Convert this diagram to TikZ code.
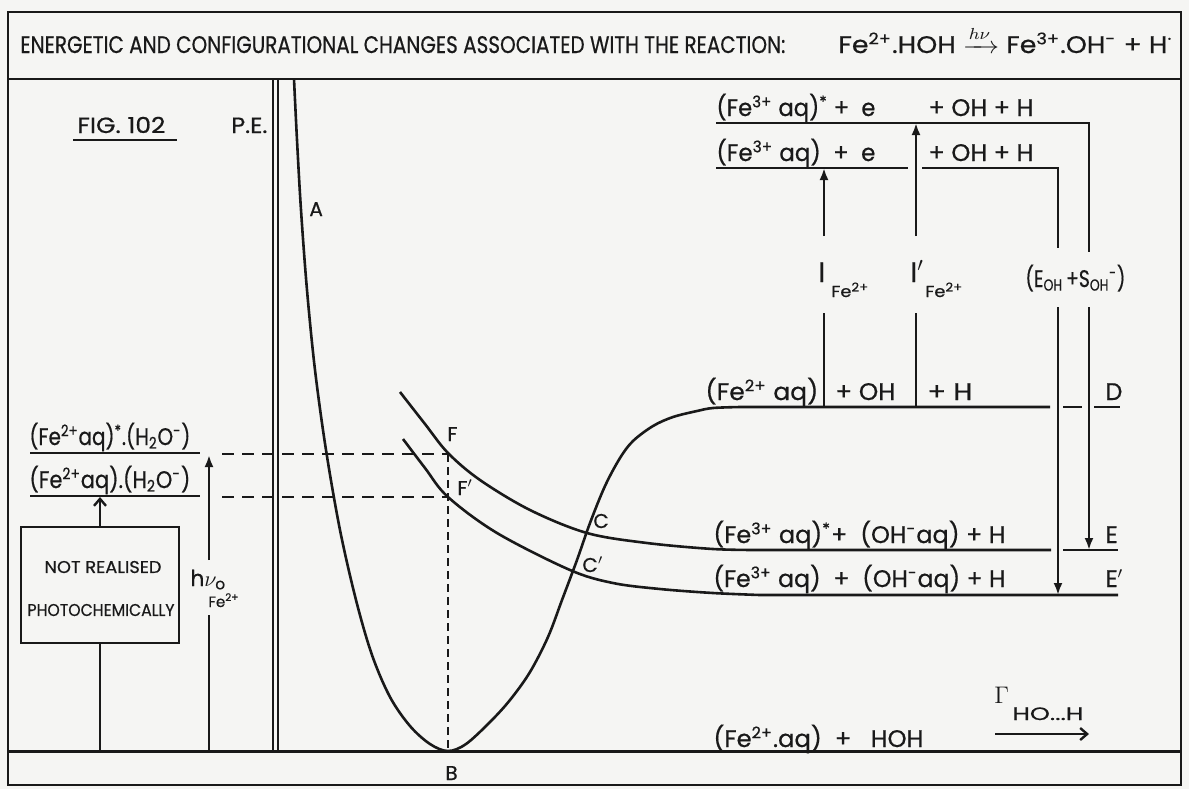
\documentclass[tikz,border=0pt]{standalone}
\usepackage{fontspec}
\usepackage{amsmath}
\usepackage{graphicx}
\setmainfont{Poppins}[FakeBold=0.6]
\usetikzlibrary{arrows.meta}
\definecolor{bgc}{RGB}{245,245,243}
\definecolor{ink}{RGB}{25,25,25}
\newcommand{\fw}[2]{\resizebox{#1pt}{\height}{#2}}
\newcommand{\sps}[1]{\textsuperscript{#1}}
\newcommand{\sbs}[1]{\textsubscript{#1}}
\tikzset{
  lvl/.style={line width=1.2pt, draw=ink},
  crv/.style={line width=1.3pt, draw=ink},
  txt/.style={inner sep=0pt, anchor=base west, text=ink, font=\fontsize{12}{14}\selectfont},
  sml/.style={inner sep=0pt, anchor=base west, text=ink, font=\fontsize{10}{12}\selectfont},
  dsh/.style={line width=0.9pt, draw=ink, dash pattern=on 6pt off 4pt},
  vdsh/.style={line width=1.2pt, draw=ink, dash pattern=on 4pt off 2.5pt},
  arr/.style={line width=1.2pt, draw=ink, -{Latex[length=6pt,width=4.5pt]}},
  oarr/.style={line width=1.2pt, draw=ink, -{Straight Barb[length=3.5pt,width=6pt]}},
}
\begin{document}
\begin{tikzpicture}[x=0.5pt,y=-0.5pt]
\useasboundingbox (0,0) rectangle (1189,789);
\fill[bgc] (0,0) rectangle (1189,789);
% frame
\draw[line width=1.2pt, draw=ink] (8,12) rectangle (1181,785);
\draw[line width=1.2pt, draw=ink] (8,79) -- (1181,79);
\draw[line width=1.5pt, draw=ink] (8,751) -- (1181,751);
% title
\node[txt, font=\fontsize{12}{14}\selectfont] (title) at (20,53) {\fw{382.5}{ENERGETIC AND CONFIGURATIONAL CHANGES ASSOCIATED WITH THE REACTION:}};
\node[txt, font=\fontsize{12}{14}\selectfont] (eq) at (838,53) {\fw{167}{Fe\sps{2+}.HOH $\xrightarrow{h\nu}$ Fe\sps{3+}.OH\sps{-} + H\sps{·}}};
% axis
\draw[line width=0.8pt, draw=ink] (273,79) -- (273,751);
\draw[line width=0.8pt, draw=ink] (278,79) -- (278,751);
\node[txt, font=\fontsize{11}{13}\selectfont] (fig) at (77,133) {\fw{44}{FIG. 102}};
\draw[line width=1.2pt, draw=ink] (73,140) -- (177,140);
\node[txt, font=\fontsize{11}{13}\selectfont] (pe) at (231,133) {\fw{18}{P.E.}};
% curve A - B - D
\draw[crv] plot[smooth, tension=0.55] coordinates {(294,79) (297,140) (301,210) (307,290) (315,370) (326,450) (340,530) (356,600) (372,655) (390,697) (410,726) (430,744) (448,751) (466,744) (490,722) (510,700) (530,672) (548,637) (562,600) (577,560) (590,523) (605,486) (620,458) (633,441) (653,426) (673,417) (697,411) (713,408) (740,407)} -- (1050,407);
\draw[lvl] (1063,407) -- (1082,407);
\draw[lvl] (1094,407) -- (1120,407);
% curve F - C - E
\draw[crv] plot[smooth, tension=0.55] coordinates {(400,392) (425,424) (448,453) (480,480) (530,510) (587,533) (647,543) (713,549) (760,550)} -- (1051,550);
\draw[lvl] (1063,550) -- (1118,550);
% curve F' - C' - E'
\draw[crv] plot[smooth, tension=0.55] coordinates {(403,439) (425,468) (448,497) (497,533) (570,570) (613,583) (660,589) (713,593) (760,595)} -- (1118,595);
% left levels
\draw[lvl] (30,453) -- (200,453);
\draw[lvl] (30,496) -- (200,496);
\node[txt] (lv1) at (29,445) {\fw{80.5}{(Fe\sps{2+}aq)\sps{*}.(H\sbs{2}O\sps{-})}};
\node[txt] (lv2) at (29,488) {\fw{80.5}{(Fe\sps{2+}aq).(H\sbs{2}O\sps{-})}};
\draw[dsh] (222,454) -- (448,454);
\draw[dsh] (222,497) -- (448,497);
\draw[vdsh] (448,454) -- (448,751);
% box
\node[draw=ink, line width=1.2pt, minimum width=79pt, minimum height=58pt, inner sep=0pt] (box) at (100,585) {};
\node[inner sep=0pt, text=ink, font=\fontsize{8.5}{10}\selectfont] (nr) at (103,567) {\fw{58.5}{NOT REALISED}};
\node[inner sep=0pt, text=ink, font=\fontsize{8.5}{10}\selectfont] (pc) at (101,610) {\fw{73.5}{PHOTOCHEMICALLY}};
\draw[oarr] (box.north) -- (100,497);
\draw[line width=1.3pt, draw=ink] (box.south) -- (100,751);
% h nu arrow
\draw[line width=1.3pt, draw=ink] (209,751) -- (209,615);
\draw[arr] (209,560) -- (209,455);
\node[sml, font=\fontsize{11}{13}\selectfont] (hnu) at (190,586) {h$\nu_{\mathrm{o}}$};
\node[sml, font=\fontsize{7.5}{9}\selectfont] (hnufe) at (208,607) {Fe\sps{2+}};
% labels on curves
\node[sml] (lA) at (309,216) {A};
\node[sml] (lB) at (445,780) {B};
\node[sml] (lF) at (447,441) {F};
\node[sml] (lF2) at (457,495) {F$'$};
\node[sml] (lC) at (593,528) {C};
\node[sml] (lC2) at (582,572) {C$'$};
% top levels
\draw[lvl] (716,123) -- (1089,123) -- (1089,252);
\draw[arr] (1089,307) -- (1089,550);
\draw[lvl] (716,168) -- (908,168);
\draw[lvl] (922,168) -- (1058,168) -- (1058,248);
\draw[arr] (1058,307) -- (1058,595);
\node[txt] (t1a) at (716,116) {\fw{79.5}{(Fe\sps{3+} aq)\sps{*} +\ \ e}};
\node[txt] (t1b) at (928,116) {\fw{52.5}{+ OH + H}};
\node[txt] (t2a) at (716,161) {\fw{79.5}{(Fe\sps{3+} aq) \ +\ \ e}};
\node[txt] (t2b) at (928,161) {\fw{52.5}{+ OH + H}};
% ionisation arrows
\draw[lvl] (824,407) -- (824,313);
\draw[arr] (824,236) -- (824,168);
\draw[lvl] (916,407) -- (916,313);
\draw[arr] (916,236) -- (916,123);
\node[inner sep=0pt, anchor=base west, text=ink, font=\fontsize{14}{16}\selectfont] (I1) at (818,282) {$\mathrm{I}$};
\node[sml, font=\fontsize{8}{9}\selectfont] (I1s) at (831,297) {\fw{19}{Fe\sps{2+}}};
\node[inner sep=0pt, anchor=base west, text=ink, font=\fontsize{14}{16}\selectfont] (I2) at (910,282) {$\mathrm{I}'$};
\node[sml, font=\fontsize{8}{9}\selectfont] (I2s) at (925,297) {\fw{19}{Fe\sps{2+}}};
\node[txt] (ES) at (1025,287) {\fw{50}{(E\sbs{OH}\,+S\sbs{OH}\sps{-})}};
% D level labels
\node[txt] (d1) at (705,400) {\fw{56.5}{(Fe\sps{2+} aq)}};
\node[txt] (d2) at (835,400) {\fw{30}{+ OH}};
\node[txt] (d3) at (927,400) {\fw{22.5}{+ H}};
\node[txt] (dD) at (1105,400) {D};
% E levels labels
\node[txt] (e1) at (713,543) {\fw{146}{(Fe\sps{3+} aq)\sps{*}+ \ (OH\sps{-}aq) + H}};
\node[txt] (e2) at (713,587) {\fw{146}{(Fe\sps{3+} aq) \ + \ (OH\sps{-}aq) + H}};
\node[txt] (eE) at (1105,543) {E};
\node[txt] (eE2) at (1105,587) {E$'$};
% ground state
\node[txt] (g) at (713,747) {\fw{105}{(Fe\sps{2+}.aq) \ + \ \ HOH}};
\node[inner sep=0pt, anchor=base west, text=ink, font=\fontsize{13}{15}\selectfont] (gam) at (994,703) {$\Gamma$};
\node[sml, font=\fontsize{9}{10}\selectfont] (gams) at (1012,720) {\fw{35.5}{HO...H}};
\coordinate (r0) at (995,734);
\coordinate (r1) at (1089,734);
\draw[oarr] (r0) -- (r1);
\end{tikzpicture}
\end{document}
